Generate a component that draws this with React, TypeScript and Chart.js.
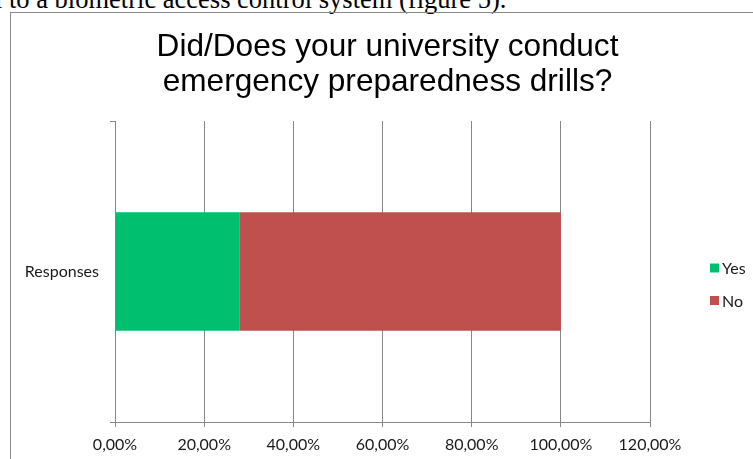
import React, { useEffect, useRef } from "react";
import { Chart, registerables } from "chart.js";

Chart.register(...registerables);

const categories = ["Responses"];
const seriesNames = ["Yes", "No"];
const yesValues = [0.28];
const noValues = [0.72];
const seriesColors = ["#00BF6F", "#C0504D"];
const xMin = 0;
const xMax = 1.2;
const xStep = 0.2;
const titleLines = ["Did/Does your university conduct", "emergency preparedness drills?"];
const precedingText = "l to a biometric access control system (figure 5).";

const GRID = "#878787";
const LABEL_FONT = "Lato";

const legendPlugin = {
  id: "excelLegend",
  afterDraw(chart: any) {
    const ctx = chart.ctx;
    ctx.save();
    chart.data.datasets.forEach((ds: any, i: number) => {
      const y = 268 + i * 32.5;
      ctx.fillStyle = ds.backgroundColor;
      ctx.fillRect(710, y - 4.5, 9, 9);
      ctx.fillStyle = "#1a1a1a";
      ctx.font = `16px ${LABEL_FONT}`;
      ctx.textBaseline = "middle";
      ctx.textAlign = "left";
      ctx.fillText(ds.label, 722, y + 1);
    });
    ctx.restore();
  },
};

export default function App() {
  const ref = useRef<HTMLCanvasElement | null>(null);

  useEffect(() => {
    if (!ref.current) return;
    const chart = new Chart(ref.current, {
      type: "bar",
      data: {
        labels: categories,
        datasets: [
          {
            label: seriesNames[0],
            data: yesValues,
            backgroundColor: seriesColors[0],
            borderWidth: 0,
            barPercentage: 0.394,
            categoryPercentage: 1,
          },
          {
            label: seriesNames[1],
            data: noValues,
            backgroundColor: seriesColors[1],
            borderWidth: 0,
            barPercentage: 0.394,
            categoryPercentage: 1,
          },
        ],
      },
      options: {
        indexAxis: "y",
        responsive: false,
        animation: false,
        devicePixelRatio: 1,
        layout: { padding: { left: 22, right: 0, top: 0, bottom: 0 } },
        plugins: {
          legend: { display: false },
          tooltip: { enabled: false },
          title: {
            display: true,
            text: titleLines,
            color: "#000",
            font: { family: "Liberation Sans", size: 31.6, weight: "normal", lineHeight: 1.108 },
            padding: { top: 30, bottom: 21 },
          },
        },
        scales: {
          x: {
            type: "linear",
            stacked: true,
            min: xMin,
            max: xMax,
            ticks: {
              stepSize: xStep,
              color: "#1a1a1a",
              font: { family: LABEL_FONT, size: 16 },
              padding: 8,
              callback: (v: any) => (Number(v) * 100).toFixed(2).replace(".", ",") + "%",
            },
            grid: { color: GRID, tickLength: 5, drawTicks: true, lineWidth: 1 },
            border: { color: GRID, width: 1 },
            afterFit: (s: any) => {
              s.height = 37;
              s.paddingRight = 103;
            },
          },
          y: {
            type: "category",
            stacked: true,
            offset: true,
            ticks: {
              color: "#1a1a1a",
              font: { family: LABEL_FONT, size: 16 },
              padding: 11,
            },
            grid: {
              display: true,
              drawOnChartArea: false,
              drawTicks: true,
              tickLength: 5,
              offset: true,
              color: GRID,
            },
            border: { color: GRID, width: 1 },
            afterFit: (s: any) => {
              s.width = 93;
            },
          },
        },
      },
      plugins: [legendPlugin],
    } as any);
    return () => chart.destroy();
  }, []);

  return (
    <div
      style={{
        position: "absolute",
        left: 0,
        top: 0,
        width: 753,
        height: 459,
        overflow: "hidden",
        background: "#fff",
      }}
    >
      <div
        style={{
          position: "absolute",
          left: -5,
          top: -13.6,
          fontFamily: "'Liberation Serif', serif",
          fontSize: 26.5,
          lineHeight: "26.5px",
          whiteSpace: "nowrap",
          color: "#000",
        }}
      >
        {precedingText}
      </div>
      <div
        style={{
          position: "absolute",
          left: 10,
          top: 12,
          width: 800,
          height: 500,
          border: "1px solid #8a8a8a",
        }}
      />
      <canvas
        ref={ref}
        width={753}
        height={459}
        style={{ position: "absolute", left: 0, top: 0, width: 753, height: 459 }}
      />
    </div>
  );
}
